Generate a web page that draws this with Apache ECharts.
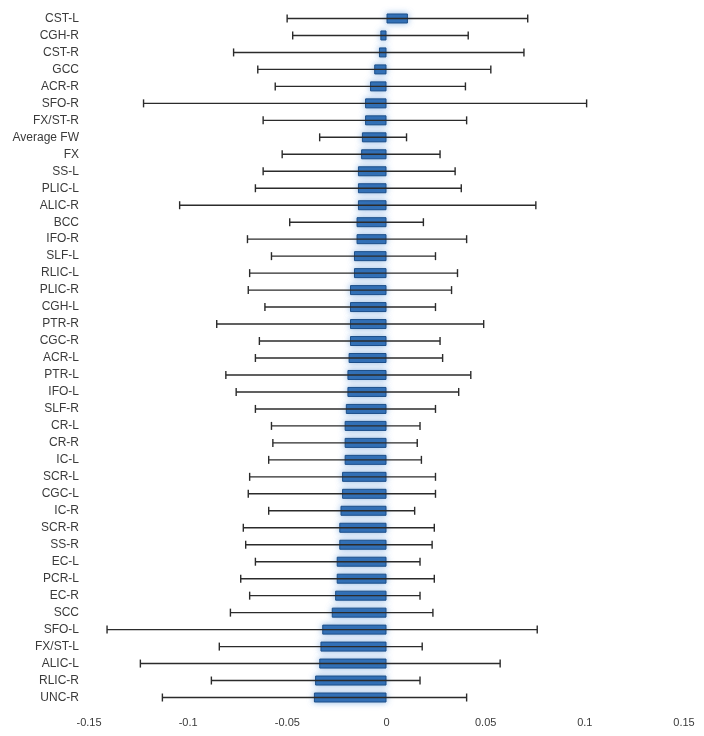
<!DOCTYPE html>
<html>
<head>
<meta charset="utf-8">
<script src="https://cdn.jsdelivr.net/npm/echarts@6/dist/echarts.min.js"></script>
<style>
html,body{margin:0;padding:0;background:#fff;}
#chart{width:704px;height:736px;}
</style>
</head>
<body>
<div id="chart"></div>
<script>
const categories = ["CST-L","CGH-R","CST-R","GCC","ACR-R","SFO-R","FX/ST-R","Average FW","FX","SS-L","PLIC-L","ALIC-R","BCC","IFO-R","SLF-L","RLIC-L","PLIC-R","CGH-L","PTR-R","CGC-R","ACR-L","PTR-L","IFO-L","SLF-R","CR-L","CR-R","IC-L","SCR-L","CGC-L","IC-R","SCR-R","SS-R","EC-L","PCR-L","EC-R","SCC","SFO-L","FX/ST-L","ALIC-L","RLIC-R","UNC-R"];
const means = [0.0108,-0.0031,-0.0038,-0.0062,-0.0083,-0.0108,-0.0108,-0.0124,-0.0128,-0.0144,-0.0144,-0.0144,-0.0151,-0.0151,-0.0164,-0.0164,-0.0184,-0.0184,-0.0184,-0.0184,-0.0191,-0.0197,-0.0197,-0.0205,-0.0211,-0.0211,-0.0211,-0.0224,-0.0224,-0.0232,-0.0238,-0.0238,-0.0251,-0.0251,-0.0259,-0.0276,-0.0324,-0.0333,-0.0339,-0.036,-0.0366];
const lows = [-0.0501,-0.0473,-0.0771,-0.0649,-0.0561,-0.1225,-0.0622,-0.0337,-0.0526,-0.0622,-0.0661,-0.1043,-0.0488,-0.0701,-0.058,-0.069,-0.0697,-0.0613,-0.0856,-0.0641,-0.0661,-0.081,-0.0758,-0.0661,-0.058,-0.0573,-0.0594,-0.069,-0.0697,-0.0594,-0.0722,-0.071,-0.0661,-0.0735,-0.069,-0.0787,-0.1409,-0.0843,-0.1241,-0.0883,-0.113];
const highs = [0.0712,0.0412,0.0693,0.0526,0.0398,0.1009,0.0404,0.0101,0.027,0.0346,0.0377,0.0753,0.0186,0.0404,0.0247,0.0358,0.0328,0.0247,0.049,0.027,0.0283,0.0425,0.0364,0.0247,0.0169,0.0155,0.0176,0.0247,0.0247,0.0142,0.0241,0.023,0.0169,0.0241,0.0169,0.0234,0.076,0.018,0.0573,0.0169,0.0404];
const xMin = -0.15, xMax = 0.15, xStep = 0.05;

const chart = echarts.init(document.getElementById('chart'));
const errData = categories.map((c, i) => [i, lows[i], highs[i]]);
const font = 'Liberation Sans, Arial, sans-serif';

chart.setOption({
  animation: false,
  backgroundColor: '#ffffff',
  grid: { left: 89, right: 20, top: 10, bottom: 30, containLabel: false },
  xAxis: {
    type: 'value', min: xMin, max: xMax, interval: xStep,
    axisLine: { show: false }, axisTick: { show: false }, splitLine: { show: false },
    axisLabel: {
      color: '#3a3a3a', fontSize: 11, fontFamily: font, margin: 11,
      formatter: v => String(parseFloat(v.toFixed(2)))
    }
  },
  yAxis: {
    type: 'category', data: categories, inverse: true,
    axisLine: { show: false }, axisTick: { show: false }, splitLine: { show: false },
    axisLabel: { color: '#3a3a3a', fontSize: 12, fontFamily: font, margin: 10 }
  },
  series: [
    {
      type: 'bar', data: means, barWidth: 10,
      itemStyle: {
        color: '#2f6db3', borderColor: '#1d4f88', borderWidth: 1,
        shadowBlur: 6, shadowColor: 'rgba(90,150,220,0.65)'
      }
    },
    {
      type: 'custom', data: errData, encode: { x: [1, 2], y: 0 }, z: 5,
      renderItem: function (params, api) {
        const yi = api.value(0);
        const p1 = api.coord([api.value(1), yi]);
        const p2 = api.coord([api.value(2), yi]);
        const h = 4;
        const st = { stroke: '#2b2b2b', lineWidth: 1.4 };
        return {
          type: 'group',
          children: [
            { type: 'line', shape: { x1: p1[0], y1: p1[1], x2: p2[0], y2: p2[1] }, style: st },
            { type: 'line', shape: { x1: p1[0], y1: p1[1] - h, x2: p1[0], y2: p1[1] + h }, style: st },
            { type: 'line', shape: { x1: p2[0], y1: p2[1] - h, x2: p2[0], y2: p2[1] + h }, style: st }
          ]
        };
      }
    }
  ]
});
</script>
</body>
</html>
